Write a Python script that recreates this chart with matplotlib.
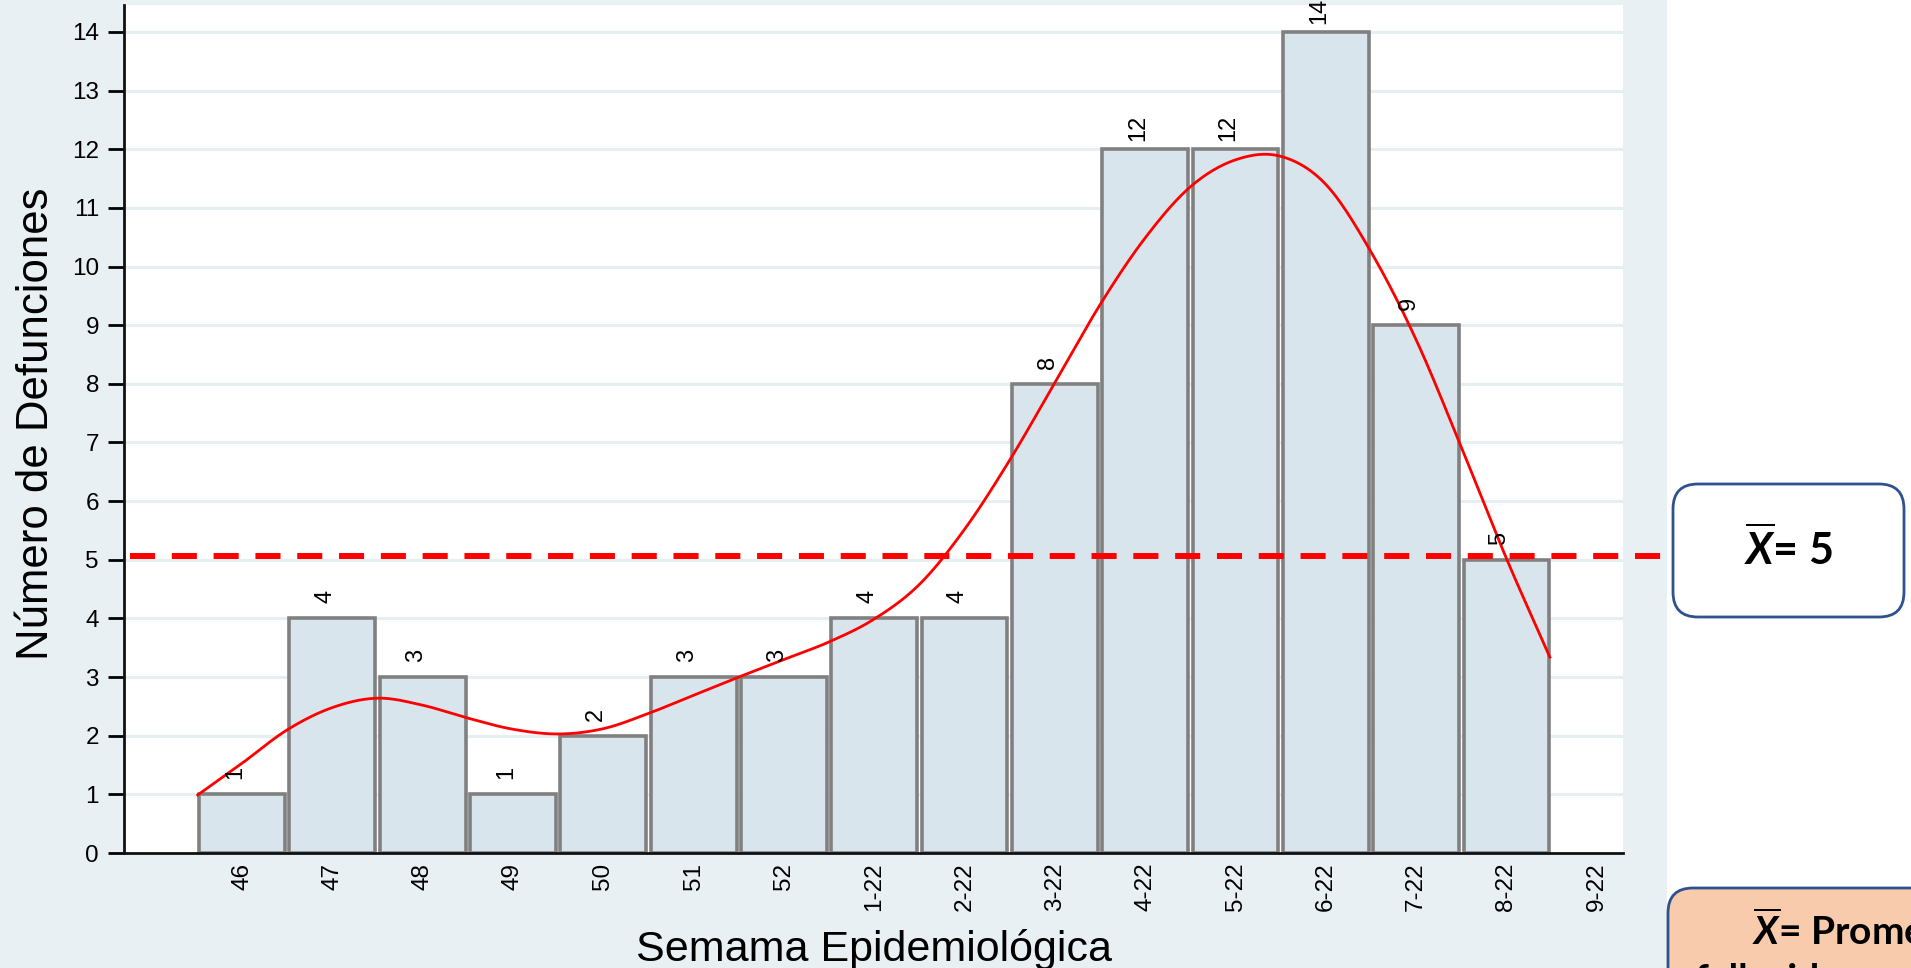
import numpy as np
import matplotlib
matplotlib.use("Agg")
import matplotlib.pyplot as plt
from matplotlib.patches import FancyBboxPatch, Rectangle
from matplotlib.transforms import blended_transform_factory

# epidemiological weeks (last one has no deaths bar)
weeks = ["46", "47", "48", "49", "50", "51", "52", "1-22", "2-22", "3-22",
         "4-22", "5-22", "6-22", "7-22", "8-22", "9-22"]
deaths = [1, 4, 3, 1, 2, 3, 3, 4, 4, 8, 12, 12, 14, 9, 5]
mean_deaths = 5.07

# smoothed trend line (x in bar positions)
trend_x = [-0.49, 0.0, 0.5, 1.0, 1.5, 2.0, 2.5, 3.0, 3.5, 4.0, 4.5, 5.0, 5.5,
           6.0, 6.5, 7.0, 7.5, 8.0, 8.5, 9.0, 9.5, 10.0, 10.5, 11.0, 11.5,
           12.0, 12.5, 13.0, 13.5, 14.0, 14.48]
trend_y = [0.99, 1.53, 2.10, 2.48, 2.64, 2.52, 2.30, 2.11, 2.03, 2.12, 2.38,
           2.69, 3.00, 3.30, 3.60, 3.99, 4.58, 5.52, 6.70, 8.02, 9.35, 10.49,
           11.36, 11.82, 11.88, 11.40, 10.25, 8.75, 6.92, 5.02, 3.34]

W, H = 1911, 968
BG = "#e8f0f3"


def hermite(xs, ys, per=24):
    xs = np.asarray(xs, float)
    ys = np.asarray(ys, float)
    m = np.gradient(ys, xs)
    px, py = [], []
    for i in range(len(xs) - 1):
        h = xs[i + 1] - xs[i]
        t = np.linspace(0, 1, per, endpoint=False)
        h00 = 2 * t**3 - 3 * t**2 + 1
        h10 = t**3 - 2 * t**2 + t
        h01 = -2 * t**3 + 3 * t**2
        h11 = t**3 - t**2
        px.append(xs[i] + t * h)
        py.append(h00 * ys[i] + h10 * h * m[i] + h01 * ys[i + 1] + h11 * h * m[i + 1])
    px.append([xs[-1]])
    py.append([ys[-1]])
    return np.concatenate(px), np.concatenate(py)


plt.rcParams["font.family"] = ["Liberation Sans", "DejaVu Sans"]
plt.rcParams["mathtext.fontset"] = "custom"
plt.rcParams["mathtext.it"] = "Lato:italic:bold"
plt.rcParams["mathtext.rm"] = "Lato:bold"
plt.rcParams["mathtext.bf"] = "Lato:bold"

fig = plt.figure(figsize=(W / 100, H / 100), dpi=100, facecolor="white")
fig.patches.append(Rectangle((0, 0), 1667 / W, 1, transform=fig.transFigure,
                             facecolor=BG, edgecolor="none", zorder=-1))

ax = fig.add_axes([124 / W, 1 - 853 / H, (1623 - 124) / W, (853 - 5) / H])
ax.set_facecolor("white")
ax.set_axisbelow(True)
ax.yaxis.grid(True, color="#e5eef2", linewidth=2.2)
for s in ("top", "right"):
    ax.spines[s].set_visible(False)
for s in ("left", "bottom"):
    ax.spines[s].set_linewidth(2)
    ax.spines[s].set_color("#111111")

x = np.arange(len(deaths))
ax.bar(x, deaths, width=0.95, color="#d9e5ec", edgecolor="#808080",
       linewidth=2.6, zorder=2)
for i, v in enumerate(deaths):
    ax.annotate(str(v), (i, v), xytext=(-5, 15.5), textcoords="offset points",
                rotation=90, ha="center", va="center", fontsize=17, zorder=4)

cx, cy = hermite(trend_x, trend_y)
ax.plot(cx, cy, color="#ff0000", linewidth=2, zorder=3)

# mean line runs past the plot area up to the edge of the grey panel
trans = blended_transform_factory(fig.dpi_scale_trans, ax.transData)
ax.plot([1.30, 16.67], [mean_deaths, mean_deaths], transform=trans,
        color="#ff0000", linewidth=4.3, linestyle=(0, (4.2, 2.8)),
        dash_capstyle="butt", clip_on=False, zorder=5)

ax.set_xticks(range(len(weeks)))
ax.set_xticklabels(weeks, rotation=90, fontsize=17.5)
ax.tick_params(axis="x", length=0, pad=7)
ax.set_yticks(range(15))
ax.tick_params(axis="y", length=11.5, width=2, pad=6.5, labelsize=17.5)
ax.set_xlim(-1.307, 15.29)
ax.set_ylim(0, 14.46)

fig.text(37 / W, 1 - 424 / H, "Número de Defunciones", rotation=90,
         ha="center", va="center", fontsize=31.5)
fig.text(874 / W, 1 - 961 / H, "Semama Epidemiológica", ha="center",
         va="baseline", fontsize=31)

# side boxes
fig.patches.append(FancyBboxPatch((16.73, 3.51), 2.31, 1.33,
                                  boxstyle="round,pad=0,rounding_size=0.25",
                                  transform=fig.dpi_scale_trans, facecolor="white",
                                  edgecolor="#2f528f", linewidth=2))
fig.text(1788 / W, 1 - 549 / H, r"$\overline{X}$= 5", ha="center", va="center",
         fontsize=31, fontfamily="Lato", fontweight="bold")

fig.patches.append(FancyBboxPatch((16.68, -1.0), 3.0, 1.80,
                                  boxstyle="round,pad=0,rounding_size=0.25",
                                  transform=fig.dpi_scale_trans, facecolor="#f8cbad",
                                  edgecolor="#2f528f", linewidth=2))
fig.text(1752 / W, 1 - 945 / H, r"$\overline{X}$= Promedio de", ha="left",
         va="baseline", fontsize=28, fontfamily="Lato", fontweight="bold")
fig.text(1695 / W, 1 - 992 / H, "fallecidos por semana", ha="left",
         va="baseline", fontsize=28, fontfamily="Lato", fontweight="bold")

fig.savefig("out.png", dpi=100, facecolor=fig.get_facecolor())
